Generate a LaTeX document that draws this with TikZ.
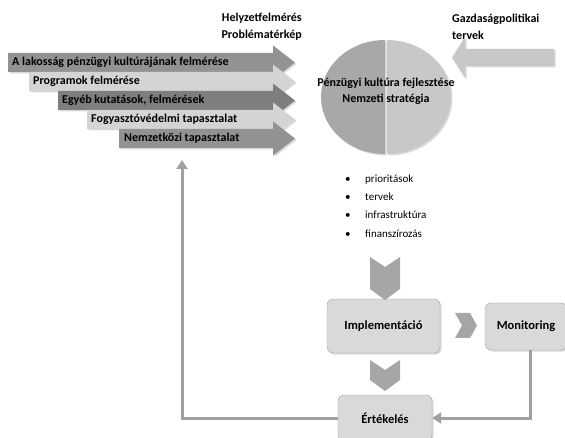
\documentclass[tikz,border=0pt]{standalone}
\usepackage{fontspec}
\setmainfont{Carlito}
\usetikzlibrary{arrows.meta,positioning,calc,shadows}
\definecolor{barmid}{RGB}{146,146,146}
\definecolor{barlight}{RGB}{212,212,212}
\definecolor{bardark}{RGB}{126,126,126}
\definecolor{stratleft}{RGB}{168,168,168}
\definecolor{stratright}{RGB}{200,200,200}
\definecolor{boxfill}{RGB}{217,217,217}
\definecolor{boxline}{RGB}{165,165,165}
\definecolor{chevgray}{RGB}{166,166,166}
\definecolor{loopgray}{RGB}{160,160,160}

\begin{document}
\begin{tikzpicture}[
    x=1pt, y=-1pt,
    bartext/.style={font=\bfseries\fontsize{12}{14}\selectfont, anchor=west, inner sep=0pt},
    head/.style={font=\bfseries\fontsize{12}{17}\selectfont, inner sep=0pt},
    soft/.style={drop shadow={opacity=0.3, shadow xshift=1.5pt, shadow yshift=-1.5pt}},
    box/.style={draw=boxline, fill=boxfill, rounded corners=6pt, font=\bfseries\fontsize{12.5}{14}\selectfont, soft},
    chev/.style={fill=chevgray},
    bullet/.style={font=\fontsize{11}{13}\selectfont, anchor=west, inner sep=0pt},
    loop/.style={draw=loopgray, line width=3pt, -{Triangle[length=9pt, width=11pt]}}
]
    \useasboundingbox (0,0) rectangle (565,438);

    % Headings
    \node[head, align=right, anchor=east] (helyzet) at (302,26.5) {Helyzetfelmérés\\Problématérkép};
    \node[head, align=left, anchor=west] (gazd) at (452,26.5) {Gazdaságpolitikai\\tervek};

    % Survey arrows
    \fill[barmid, soft] (8,53) -- (273,53) -- (273,45.5) -- (295,62.5) -- (273,79.5) -- (273,72) -- (8,72) -- cycle;
    \node[bartext] (a1) at (12,62.5) {A lakosság pénzügyi kultúrájának felmérése};
    \fill[barlight, soft] (29,72) -- (273,72) -- (273,64.5) -- (295,81.5) -- (273,98.5) -- (273,91) -- (29,91) -- cycle;
    \node[bartext] (a2) at (33,81.5) {Programok felmérése};
    \fill[bardark, soft] (58,91) -- (273,91) -- (273,83.5) -- (295,100.5) -- (273,117.5) -- (273,110) -- (58,110) -- cycle;
    \node[bartext] (a3) at (62,100.5) {Egyéb kutatások, felmérések};
    \fill[barlight, soft] (87,110) -- (273,110) -- (273,102.5) -- (295,119.5) -- (273,136.5) -- (273,129) -- (87,129) -- cycle;
    \node[bartext] (a4) at (91,119.5) {Fogyasztóvédelmi tapasztalat};
    \fill[barmid, soft] (119,129) -- (273,129) -- (273,121.5) -- (295,138.5) -- (273,155.5) -- (273,148) -- (119,148) -- cycle;
    \node[bartext] (a5) at (124,138.5) {Nemzetközi tapasztalat};

    % Policy arrow
    \fill[stratright, soft] (554,49) -- (465,49) -- (465,37) -- (452,57.5) -- (465,78) -- (465,66) -- (554,66) -- cycle;

    % Strategy circle
    \fill[stratleft, soft] (385,40) arc[start angle=270, end angle=90, x radius=64, y radius=57] -- cycle;
    \fill[stratright, soft] (387,40) arc[start angle=270, end angle=450, x radius=64, y radius=57] -- cycle;
    \node[head, align=center, font=\bfseries\fontsize{12}{16}\selectfont] (strat) at (386,91) {Pénzügyi kultúra fejlesztése\\Nemzeti stratégia};

    % Bullets
    \node[bullet] (b1) at (345,180) {\makebox[20pt][l]{\textbullet}prioritások};
    \node[bullet] (b2) at (345,197) {\makebox[20pt][l]{\textbullet}tervek};
    \node[bullet] (b3) at (345,214.5) {\makebox[20pt][l]{\textbullet}infrastruktúra};
    \node[bullet] (b4) at (345,234) {\makebox[20pt][l]{\textbullet}finanszírozás};

    % Process boxes
    \node[box, minimum width=113pt, minimum height=54pt] (impl) at (383.5,326) {Implementáció};
    \node[box, minimum width=82pt, minimum height=47pt] (mon) at (526,326.5) {Monitoring};
    \node[box, minimum width=94pt, minimum height=46pt] (eval) at (385,418) {Értékelés};

    % Chevrons
    \fill[chev] (370,257) -- (385,267) -- (400,257) -- (400,289) -- (385,300) -- (370,289) -- cycle;
    \fill[chev] (370,360) -- (385,370) -- (400,360) -- (400,380) -- (385,391) -- (370,380) -- cycle;
    \fill[chev] (455,313) -- (470,313) -- (477,325.5) -- (470,338) -- (455,338) -- (462,325.5) -- cycle;

    % Feedback lines
    \coordinate (fbend) at (182,160);
    \draw[loop] (eval.west) -| (fbend);
    \draw[loop] (mon.south) ++(4,0) |- (eval.east);
\end{tikzpicture}
\end{document}
